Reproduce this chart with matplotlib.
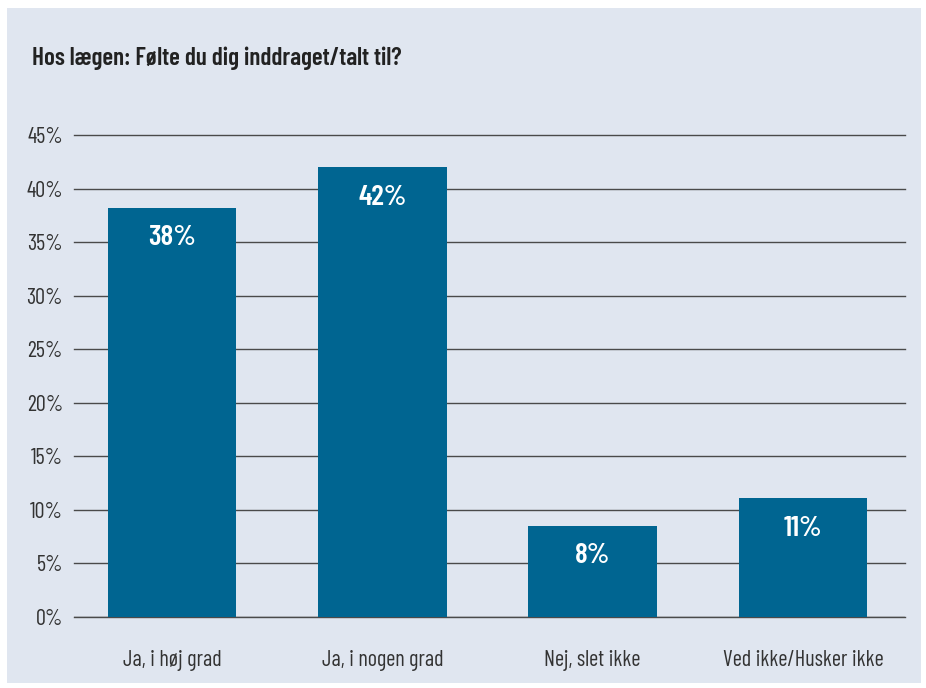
import matplotlib.pyplot as plt
from matplotlib.patches import Rectangle

# Data
categories = ["Ja, i høj grad", "Ja, i nogen grad", "Nej, slet ikke", "Ved ikke/Husker ikke"]
values = [38.2, 42.0, 8.5, 11.1]
value_labels = ["38%", "42%", "8%", "11%"]
yticks = [0, 5, 10, 15, 20, 25, 30, 35, 40, 45]

bg = "#e0e6f0"
bar_color = "#006591"

plt.rcParams["font.family"] = ["Barlow Semi Condensed", "Roboto Condensed", "DejaVu Sans"]
cond = ["Barlow Condensed", "Roboto Condensed", "DejaVu Sans"]

W, H = 926, 688
fig = plt.figure(figsize=(W / 100, H / 100), dpi=100)
fig.patch.set_facecolor("white")
fig.patches.append(Rectangle((7 / W, 5 / H), 914 / W, 675 / H, transform=fig.transFigure,
                             facecolor=bg, edgecolor="none", zorder=-10))

ax = fig.add_axes([74 / W, (H - 617) / H, (905 - 74) / W, (617 - 135) / H])
ax.set_facecolor("none")
x = range(len(categories))
ax.bar(x, values, width=0.61, color=bar_color, zorder=3)

for xi, v, lab in zip(x, values, value_labels):
    ax.annotate(lab, (xi, v), xytext=(0, -30), textcoords="offset pixels",
                ha="center", va="center", color="white", fontsize=21, fontweight="semibold",
                family=cond, zorder=4)

ax.set_xlim(-0.467, 3.486)
ax.set_ylim(0, 45)
ax.set_yticks(yticks)
ax.set_yticklabels([f"{t}%" for t in yticks])
ax.set_xticks(list(x))
ax.set_xticklabels(categories)
ax.yaxis.grid(True, color="#4a4a4a", linewidth=1, clip_on=False)
ax.axhline(0, color="#4a4a4a", linewidth=1, zorder=1)
ax.set_axisbelow(True)
for s in ax.spines.values():
    s.set_visible(False)
ax.tick_params(axis="both", length=0, labelsize=15, labelcolor="#333333")
for lbl in ax.get_xticklabels() + ax.get_yticklabels():
    lbl.set_family(cond)
    lbl.set_fontsize(16)
ax.tick_params(axis="y", pad=8)
ax.tick_params(axis="x", pad=24)

fig.text(32 / W, 1 - 58 / H, "Hos lægen: Følte du dig inddraget/talt til?", ha="left", va="center",
         fontsize=18, fontweight="semibold", family=cond, color="#222222")

fig.savefig("out.png", dpi=100)
